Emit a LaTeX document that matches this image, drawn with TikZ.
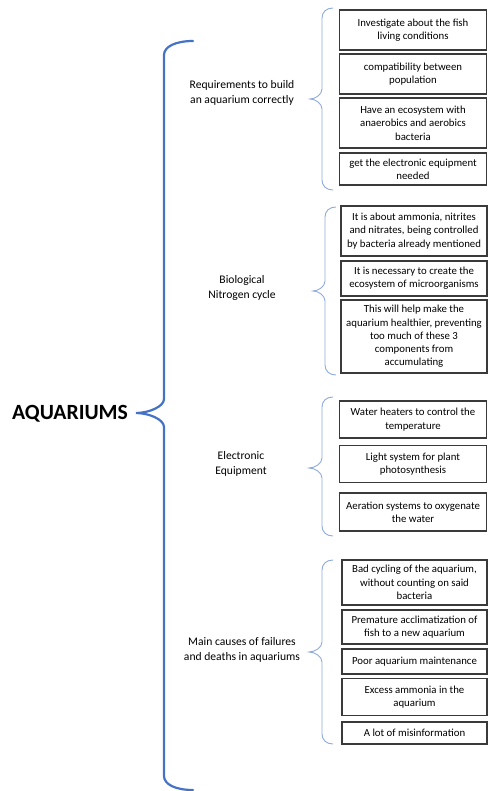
\documentclass[tikz,border=0pt]{standalone}
\usepackage{fontspec}
\setmainfont{Carlito}
\definecolor{bracedark}{HTML}{4472C4}
\definecolor{bracelight}{HTML}{8EA9DB}
\definecolor{boxline}{HTML}{3A3A3A}
% brace: style, x end, x spine, x tip, y top, y tip, y bottom, hook height
\newcommand{\curlybrace}[8]{%
  \draw[#1] (#2,#5) .. controls (#3+0.4*#2-0.4*#3,#5) and (#3,#5+0.4*#8) .. (#3,#5+#8)
    -- (#3,#6-#8) .. controls (#3,#6-0.45*#8) and (#4+0.45*#3-0.45*#4,#6) .. (#4,#6)
    .. controls (#4+0.45*#3-0.45*#4,#6) and (#3,#6+0.45*#8) .. (#3,#6+#8)
    -- (#3,#7-#8) .. controls (#3,#7-0.4*#8) and (#3+0.4*#2-0.4*#3,#7) .. (#2,#7);}
\tikzset{
  leaf/.style={draw=boxline, line width=1.1pt, align=center, inner sep=0.5pt,
    minimum width=147pt, font=\fontsize{10.8}{13.3}\selectfont},
  topic/.style={align=center, font=\fontsize{11.6}{14.5}\selectfont},
  bigbrace/.style={draw=bracedark, line width=2.2pt, line cap=round},
  smallbrace/.style={draw=bracelight, line width=0.9pt},
}
\begin{document}
\begin{tikzpicture}[x=1pt,y=-1pt]
  \useasboundingbox (0,0) rectangle (488,791);

  \node (aquariums) at (70,414) {\bfseries\fontsize{21.7}{24}\selectfont AQUARIUMS};
  \curlybrace{bigbrace}{193}{164}{136}{41}{413}{790}{14}

  % requirements
  \node[topic] (req) at (242,93) {Requirements to build\\an aquarium correctly};
  \curlybrace{smallbrace}{333}{322}{310}{8}{99}{190}{10}
  \node[leaf, minimum height=40pt] (req1) at (413,30) {Investigate about the fish\\living conditions};
  \node[leaf, minimum height=40pt] (req2) at (413,74) {compatibility between\\population};
  \node[leaf, minimum height=50pt] (req3) at (413,123) {Have an ecosystem with\\anaerobics and aerobics\\bacteria};
  \node[leaf, minimum height=32pt] (req4) at (413,169) {get the electronic equipment\\needed};

  % nitrogen cycle
  \node[topic] (cyc) at (242,288) {Biological\\Nitrogen cycle};
  \curlybrace{smallbrace}{336}{325}{313}{207}{291}{375}{10}
  \node[leaf, minimum width=146pt, minimum height=50pt] (cyc1) at (414,231) {It is about ammonia, nitrites\\and nitrates, being controlled\\by bacteria already mentioned};
  \node[leaf, minimum width=146pt, minimum height=35pt] (cyc2) at (414,278.5) {It is necessary to create the\\ecosystem of microorganisms};
  \node[leaf, minimum width=146pt, minimum height=73pt] (cyc3) at (414,336.5) {This will help make the\\aquarium healthier, preventing\\too much of these 3\\components from\\accumulating};

  % equipment
  \node[topic] (equ) at (241,464) {Electronic\\Equipment};
  \curlybrace{smallbrace}{333}{322}{309}{397}{468}{536}{10}
  \node[leaf, minimum height=37pt] (equ1) at (413,419.5) {Water heaters to control the\\temperature};
  \node[leaf, minimum height=37pt] (equ2) at (413,464) {Light system for plant\\photosynthesis};
  \node[leaf, minimum height=38pt] (equ3) at (413,512) {Aeration systems to oxygenate\\the water};

  % failures
  \node[topic] (fail) at (242,650) {Main causes of failures\\and deaths in aquariums};
  \curlybrace{smallbrace}{333}{322}{309}{560}{652}{744}{10}
  \node[leaf, minimum width=145pt, minimum height=45pt] (fail1) at (414.5,582.5) {Bad cycling of the aquarium,\\without counting on said\\bacteria};
  \node[leaf, minimum width=145pt, minimum height=34pt] (fail2) at (414.5,627) {Premature acclimatization of\\fish to a new aquarium};
  \node[leaf, minimum width=145pt, minimum height=25pt] (fail3) at (414.5,661.5) {Poor aquarium maintenance};
  \node[leaf, minimum width=145pt, minimum height=37pt] (fail4) at (414.5,697) {Excess ammonia in the\\aquarium};
  \node[leaf, minimum width=145pt, minimum height=22pt] (fail5) at (414.5,733) {A lot of misinformation};
\end{tikzpicture}
\end{document}
